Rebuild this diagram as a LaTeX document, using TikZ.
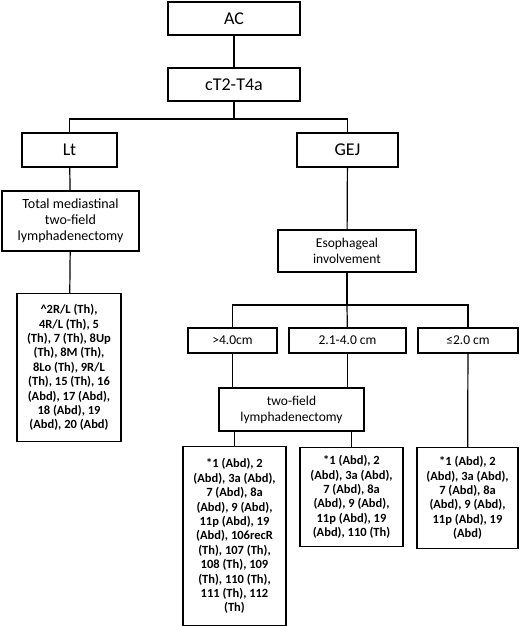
\documentclass[tikz,border=0pt]{standalone}
\usepackage{fontspec}
\setmainfont{Carlito}
\usepackage{tikz}
\usetikzlibrary{positioning}

\begin{document}
\begin{tikzpicture}[x=1pt,y=-1pt,line width=1.2pt,
                    every node/.style={inner sep=1pt}]
  \tikzstyle{big}=[draw,rectangle,font=\fontsize{18}{22}\selectfont]
  \tikzstyle{mid}=[draw,rectangle,align=center,font=\fontsize{13.5}{16}\selectfont]
  \tikzstyle{list}=[draw,rectangle,align=center,anchor=north,
                    font=\bfseries\fontsize{12.5}{14.4}\selectfont]
  \useasboundingbox (0,0) rectangle (520,626);

  \node[big,minimum width=132pt,minimum height=33pt] (ac) at (234,18.5) {AC};
  \node[big,minimum width=132pt,minimum height=33pt] (ct) at (234,84.5) {cT2-T4a};
  \node[big,minimum width=95pt,minimum height=34pt]  (lt) at (69.5,150) {Lt};
  \node[big,minimum width=101pt,minimum height=34pt] (gej) at (347.5,150) {GEJ};

  \node[mid,minimum width=137pt,minimum height=60pt,
        font=\fontsize{14}{16}\selectfont] (tmd) at (70.5,221)
       {Total mediastinal\\two-field\\lymphadenectomy};
  \node[list,minimum width=104pt,minimum height=148pt,inner ysep=5pt] (ltn) at (69,293)
       {\textasciicircum2R/L (Th),\\4R/L (Th), 5\\(Th), 7 (Th), 8Up\\(Th), 8M (Th),\\
        8Lo (Th), 9R/L\\(Th), 15 (Th), 16\\(Abd), 17 (Abd),\\18 (Abd), 19\\(Abd), 20 (Abd)};

  \node[mid,minimum width=138pt,minimum height=42pt] (eso) at (347,251)
       {Esophageal\\involvement};
  \node[mid,minimum width=89pt,minimum height=25pt]  (g40) at (232.5,340.5) {>4.0cm};
  \node[mid,minimum width=117pt,minimum height=25pt] (g21) at (347.5,340.5) {2.1-4.0 cm};
  \node[mid,minimum width=100pt,minimum height=25pt] (l20) at (468,340.5) {≤2.0 cm};
  \node[mid,minimum width=145pt,minimum height=43pt] (tfl) at (291.5,409.5)
       {two-field\\lymphadenectomy};

  \node[list,minimum width=103pt,minimum height=179pt,inner ysep=5pt] (n40) at (234.5,446)
       {*1 (Abd), 2\\(Abd), 3a (Abd),\\7 (Abd), 8a\\(Abd), 9 (Abd),\\11p (Abd), 19\\
        (Abd), 106recR\\(Th), 107 (Th),\\108 (Th), 109\\(Th), 110 (Th),\\111 (Th), 112\\(Th)};
  \node[list,minimum width=103pt,minimum height=99pt,inner ysep=5pt] (n21) at (351.5,447)
       {*1 (Abd), 2\\(Abd), 3a (Abd),\\7 (Abd), 8a\\(Abd), 9 (Abd),\\11p (Abd), 19\\(Abd), 110 (Th)};
  \node[list,minimum width=101pt,minimum height=101pt,inner ysep=5pt] (n20) at (467.5,447)
       {*1 (Abd), 2\\(Abd), 3a (Abd),\\7 (Abd), 8a\\(Abd), 9 (Abd),\\11p (Abd), 19\\(Abd)};

  \coordinate (b1) at (234,119);
  \coordinate (b2) at (347,305);

  \draw (ac) -- (ct);
  \draw (ct) -- (b1) -| (lt);
  \draw (b1) -| (gej);
  \draw (lt) -- (tmd);
  \draw (tmd) -- (ltn);
  \draw (gej) -- (eso);
  \draw (eso) -- (b2) -| (g40);
  \draw (b2) -| (l20);
  \draw (b2) -- (g21);
  \draw (g40.south) -- (g40.south |- tfl.north);
  \draw (g21.south) -- (g21.south |- tfl.north);
  \draw (tfl.south -| n40.north) -- (n40.north);
  \draw (tfl.south -| n21.north) -- (n21.north);
  \draw (l20) -- (n20);
\end{tikzpicture}
\end{document}
